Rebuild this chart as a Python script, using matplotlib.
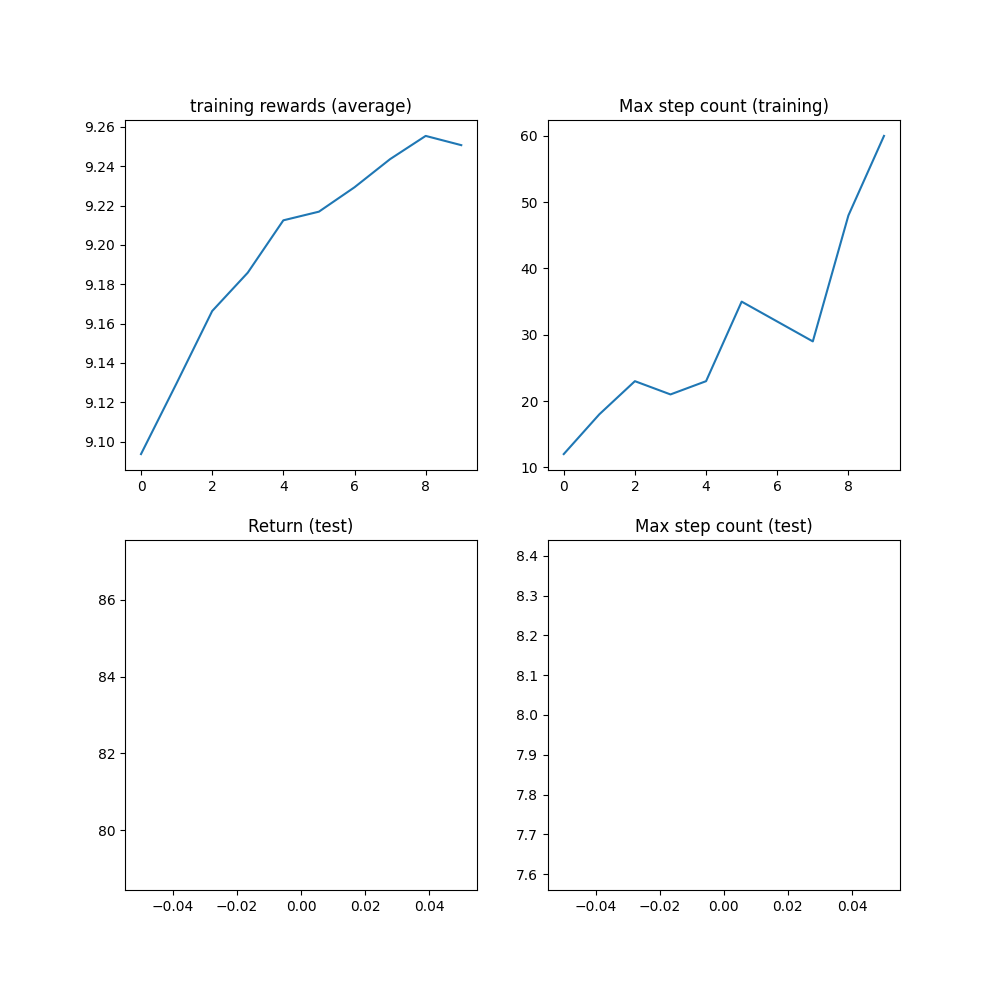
import matplotlib
matplotlib.use("Agg")
import matplotlib.pyplot as plt

train_rewards = [9.0937, 9.1297, 9.1664, 9.1859, 9.2125, 9.2169, 9.2293, 9.2436, 9.2554, 9.2507]
train_step_count = [12, 18, 23, 21, 23, 35, 32, 29, 48, 60]
test_return = [83.0]
test_step_count = [8.0]

plt.figure(figsize=(10, 10))
plt.subplot(2, 2, 1)
plt.plot(train_rewards)
plt.title("training rewards (average)")
plt.subplot(2, 2, 2)
plt.plot(train_step_count)
plt.title("Max step count (training)")
plt.subplot(2, 2, 3)
plt.plot(test_return)
plt.title("Return (test)")
plt.subplot(2, 2, 4)
plt.plot(test_step_count)
plt.title("Max step count (test)")
plt.savefig("out.png", dpi=100)
